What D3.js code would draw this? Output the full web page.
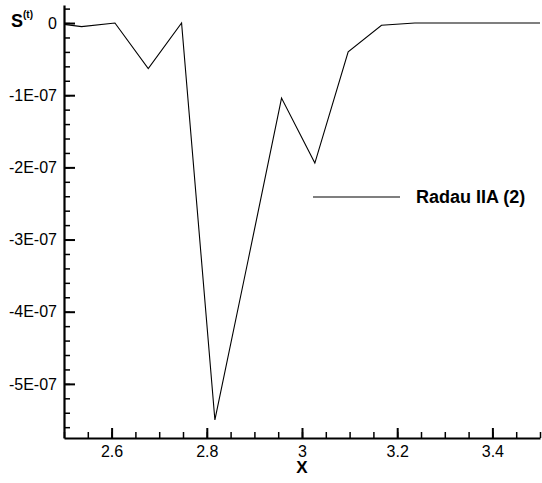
<!DOCTYPE html>
<html lang="en">
<head>
    <meta charset="UTF-8" />
    <title>Radau IIA (2)</title>
    <script src="https://d3js.org/d3.v7.min.js"></script>
    <style>
        body { margin: 0; background: #fff; font-family: Arial, "Liberation Sans", sans-serif; }
    </style>
</head>
<body>
    <div id="chart"></div>
    <script>
        // data
        var xValues = [2.467, 2.537, 2.607, 2.677, 2.747, 2.817, 2.887, 2.957, 3.027, 3.097, 3.167, 3.237, 3.307, 3.377, 3.447, 3.517];
        var sValues = [0.01e-7, -0.05e-7, 0, -0.63e-7, 0, -5.5e-7, -3.28e-7, -1.04e-7, -1.94e-7, -0.40e-7, -0.03e-7, 0, 0, 0, 0, 0];
        var xTicks = [2.6, 2.8, 3, 3.2, 3.4];
        var xTickLabels = ["2.6", "2.8", "3", "3.2", "3.4"];
        var yTicks = [0, -1e-7, -2e-7, -3e-7, -4e-7, -5e-7];
        var yTickLabels = ["0", "-1E-07", "-2E-07", "-3E-07", "-4E-07", "-5E-07"];
        var seriesName = "Radau IIA (2)";

        var w = 542, h = 483;
        // plot box (note: "top" is reserved on window, so use other names)
        var plotLeft = 64, plotRight = 540, plotTop = 5, plotBottom = 438;

        var svg = d3.select("#chart").append("svg")
            .attr("width", w)
            .attr("height", h);

        var x = d3.scaleLinear().domain([2.5, 3.5]).range([plotLeft, plotRight]);
        var y = d3.scaleLinear().domain([-5.75e-7, 0.25e-7]).range([plotBottom, plotTop]);

        svg.append("clipPath").attr("id", "clip")
            .append("rect")
            .attr("x", plotLeft).attr("y", plotTop)
            .attr("width", plotRight - plotLeft).attr("height", plotBottom - plotTop);

        // minor ticks
        svg.append("g")
            .attr("transform", "translate(0," + plotBottom + ")")
            .call(d3.axisBottom(x).tickValues(d3.range(2.5, 3.501, 0.05)).tickSize(-6).tickFormat(""))
            .call(g => g.select(".domain").remove())
            .selectAll("line").attr("stroke-width", 1.5);
        svg.append("g")
            .attr("transform", "translate(" + plotLeft + ",0)")
            .call(d3.axisLeft(y).tickValues(d3.range(-5.6e-7, 0.21e-7, 0.2e-7)).tickSize(-6).tickFormat(""))
            .call(g => g.select(".domain").remove())
            .selectAll("line").attr("stroke-width", 1.5);

        // major ticks + labels
        var xAxis = svg.append("g")
            .attr("transform", "translate(0," + plotBottom + ")")
            .call(d3.axisBottom(x).tickValues(xTicks)
                .tickFormat(function(d, i) { return xTickLabels[i]; })
                .tickSizeInner(-10).tickSizeOuter(0).tickPadding(8));
        var yAxis = svg.append("g")
            .attr("transform", "translate(" + plotLeft + ",0)")
            .call(d3.axisLeft(y).tickValues(yTicks)
                .tickFormat(function(d, i) { return yTickLabels[i]; })
                .tickSizeInner(-11).tickSizeOuter(0).tickPadding(7));

        [xAxis, yAxis].forEach(function(g) {
            g.select(".domain").attr("stroke-width", 2.2);
            g.selectAll(".tick line").attr("stroke-width", 2);
            g.selectAll("text")
                .attr("fill", "#000")
                .style("font-size", "16px")
                .style("font-family", "Arial, 'Liberation Sans', sans-serif");
        });

        // the series
        var line = d3.line()
            .x(function(d, i) { return x(xValues[i]); })
            .y(function(d) { return y(d); });

        svg.append("path")
            .datum(sValues)
            .attr("clip-path", "url(#clip)")
            .attr("fill", "none")
            .attr("stroke", "#000")
            .attr("stroke-width", 1.1)
            .attr("d", line);

        // axis titles
        svg.append("text")
            .attr("x", (plotLeft + plotRight) / 2)
            .attr("y", 473)
            .attr("text-anchor", "middle")
            .style("font-size", "17px")
            .style("font-weight", "bold")
            .text("X");

        var yTitle = svg.append("text")
            .attr("x", 11)
            .attr("y", 27)
            .style("font-weight", "bold");
        yTitle.append("tspan").style("font-size", "18px").text("S");
        yTitle.append("tspan").attr("dy", -9).style("font-size", "10px").text("(t)");

        // legend
        svg.append("line")
            .attr("x1", 313).attr("x2", 400)
            .attr("y1", 197).attr("y2", 197)
            .attr("stroke", "#000")
            .attr("stroke-width", 1.1);
        svg.append("text")
            .attr("x", 416)
            .attr("y", 203)
            .style("font-size", "18px")
            .style("font-weight", "bold")
            .text(seriesName);
    </script>
</body>
</html>
